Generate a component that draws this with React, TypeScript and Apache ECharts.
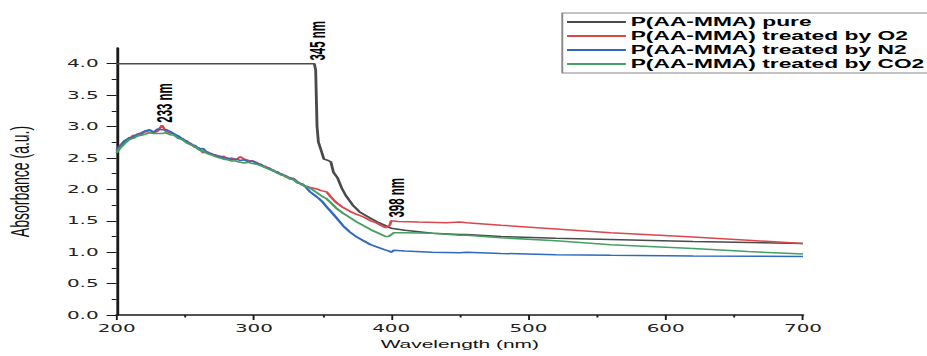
import React, { useEffect, useRef } from "react";
import * as echarts from "echarts";

// The reference figure is horizontally stretched; draw at a narrower width and stretch with CSS.
const PAGE_W = 927;
const PAGE_H = 356;
const CHART_W = 488;
const SCALE_X = PAGE_W / CHART_W;

const FONT = "'Liberation Sans', Arial, sans-serif";
const TICK_FONT = "'DejaVu Sans', Verdana, sans-serif";

const seriesNames = [
  "P(AA-MMA) pure",
  "P(AA-MMA) treated by O2",
  "P(AA-MMA) treated by N2",
  "P(AA-MMA) treated by CO2",
];
const seriesColors = ["#4a4a4a", "#d9474c", "#2f68c0", "#43a062"];

const yTickValues = [0, 0.5, 1.0, 1.5, 2.0, 2.5, 3.0, 3.5, 4.0];
const yMinorTickValues = [0.25, 0.75, 1.25, 1.75, 2.25, 2.75, 3.25, 3.75];

// shared scan wavelengths (nm) for the noisy region
const scanWave = [
  200, 203, 206, 209, 212, 215, 218, 221, 224, 227, 230, 233, 236, 239, 242, 245,
  248, 251, 254, 257, 260, 263, 266, 269, 272, 275, 278, 281, 284, 287, 290, 293,
  296, 299, 302, 305, 308, 311, 314, 317, 320, 323, 326, 329, 332, 335, 338,
];

const o2Scan = [
  2.62, 2.71, 2.78, 2.79, 2.86, 2.85, 2.88, 2.92, 2.91, 2.9, 2.93, 3.02, 2.92, 2.9, 2.88, 2.82,
  2.81, 2.75, 2.73, 2.67, 2.66, 2.58, 2.6, 2.55, 2.55, 2.51, 2.53, 2.48, 2.5, 2.47, 2.52, 2.48,
  2.46, 2.45, 2.43, 2.38, 2.37, 2.33, 2.31, 2.26, 2.25, 2.2, 2.19, 2.17, 2.12, 2.07, 2.05,
];
const n2Scan = [
  2.64, 2.69, 2.77, 2.82, 2.83, 2.88, 2.9, 2.93, 2.95, 2.91, 2.96, 2.95, 2.95, 2.92, 2.88, 2.85,
  2.79, 2.77, 2.71, 2.7, 2.64, 2.65, 2.58, 2.57, 2.53, 2.53, 2.5, 2.5, 2.47, 2.48, 2.46, 2.47,
  2.44, 2.45, 2.41, 2.4, 2.35, 2.34, 2.29, 2.28, 2.23, 2.22, 2.17, 2.16, 2.1, 2.09, 2.03,
];
const co2Scan = [
  2.58, 2.67, 2.73, 2.79, 2.81, 2.85, 2.86, 2.88, 2.9, 2.89, 2.89, 2.89, 2.9, 2.87, 2.86, 2.81,
  2.79, 2.74, 2.71, 2.68, 2.63, 2.61, 2.57, 2.55, 2.52, 2.5, 2.48, 2.47, 2.45, 2.45, 2.43, 2.42,
  2.43, 2.41, 2.4, 2.38, 2.35, 2.32, 2.3, 2.26, 2.23, 2.21, 2.17, 2.15, 2.11, 2.08, 2.04,
];

const o2TailWave = [341, 345, 349, 353, 356, 360, 365, 370, 375, 380, 385, 389, 393, 396, 398, 399, 400, 405, 420, 440, 450, 455, 480, 520, 560, 620, 660, 700];
const o2Tail = [2.03, 2.01, 1.98, 1.96, 1.88, 1.79, 1.71, 1.65, 1.6, 1.56, 1.5, 1.47, 1.42, 1.39, 1.41, 1.43, 1.5, 1.49, 1.48, 1.47, 1.48, 1.47, 1.43, 1.37, 1.31, 1.24, 1.19, 1.14];

const n2TailWave = [341, 344, 347, 350, 353, 356, 360, 365, 370, 375, 380, 385, 390, 395, 398, 400, 402, 410, 430, 450, 455, 480, 520, 560, 620, 700];
const n2Tail = [1.96, 1.91, 1.86, 1.8, 1.72, 1.65, 1.55, 1.42, 1.32, 1.24, 1.18, 1.12, 1.08, 1.04, 1.02, 1.0, 1.03, 1.02, 1.0, 0.99, 1.0, 0.98, 0.96, 0.95, 0.94, 0.93];

const co2TailWave = [341, 345, 349, 353, 356, 360, 365, 370, 375, 380, 385, 389, 393, 396, 398, 400, 402, 410, 430, 450, 455, 480, 520, 560, 620, 660, 700];
const co2Tail = [2.02, 1.96, 1.9, 1.85, 1.79, 1.7, 1.62, 1.55, 1.48, 1.42, 1.36, 1.32, 1.28, 1.25, 1.25, 1.28, 1.31, 1.31, 1.3, 1.27, 1.27, 1.23, 1.18, 1.12, 1.06, 1.01, 0.97];

const pureWave = [200, 344, 345, 346, 347, 349, 351, 354, 356, 358, 361, 364, 367, 372, 377, 384, 390, 395, 400, 410, 430, 450, 455, 480, 520, 560, 620, 700];
const pureVals = [4.0, 4.0, 3.9, 3.0, 2.75, 2.62, 2.48, 2.46, 2.44, 2.27, 2.18, 2.02, 1.9, 1.75, 1.64, 1.55, 1.48, 1.43, 1.38, 1.35, 1.3, 1.28, 1.28, 1.25, 1.22, 1.2, 1.17, 1.14];

// peak annotations: label, wavelength, absorbance at label foot, series index
const peakLabels = ["233 nm", "345 nm", "398 nm"];
const peakWave = [235, 346.6, 404];
const peakAbs = [3.06, 4.05, 1.55];
const peakSeries = [1, 0, 1];

const zip = (xs: number[], ys: number[]) => xs.map((x, i) => [x, ys[i]]);

export default function App() {
  const ref = useRef<HTMLDivElement>(null);

  useEffect(() => {
    if (!ref.current) return;
    const chart = echarts.init(ref.current, null, { renderer: "svg" });

    const dataSets = [
      zip(pureWave, pureVals),
      zip([...scanWave, ...o2TailWave], [...o2Scan, ...o2Tail]),
      zip([...scanWave, ...n2TailWave], [...n2Scan, ...n2Tail]),
      zip([...scanWave, ...co2TailWave], [...co2Scan, ...co2Tail]),
    ];

    const series = seriesNames.map((name, i) => {
      const marks = peakLabels
        .map((lab, k) => ({ lab, k }))
        .filter(({ k }) => peakSeries[k] === i)
        .map(({ lab, k }) => ({ name: lab, coord: [peakWave[k], peakAbs[k]] }));
      return {
        name,
        type: "line",
        data: dataSets[i],
        symbol: "none",
        showSymbol: false,
        lineStyle: { color: seriesColors[i], width: 1.5 },
        itemStyle: { color: seriesColors[i] },
        z: 2 + i,
        markPoint: marks.length
          ? {
              symbol: "circle",
              symbolSize: 1,
              itemStyle: { color: "rgba(0,0,0,0)" },
              label: {
                show: true,
                formatter: (p: any) => p.name,
                position: "inside",
                rotate: 90,
                align: "left",
                verticalAlign: "middle",
                color: "#000",
                fontFamily: FONT,
                fontWeight: "bold",
                fontSize: 11.5,
              },
              data: marks,
            }
          : undefined,
      };
    });

    const axisColor = "#1a1a1a";

    chart.setOption({
      animation: false,
      backgroundColor: "#ffffff",
      textStyle: { fontFamily: FONT },
      grid: {
        left: 61.4,
        right: 65.3,
        top: 48,
        bottom: 41,
        containLabel: false,
        outerBoundsMode: "none",
      },
      legend: {
        orient: "vertical",
        left: 296,
        top: 13,
        padding: [2, 2, 2, 1.5],
        itemWidth: 31,
        itemHeight: 14,
        itemGap: 0,
        borderColor: "#888",
        borderWidth: 1,
        itemStyle: { opacity: 0 },
        data: seriesNames,
        textStyle: {
          fontFamily: FONT,
          fontWeight: "bold",
          fontSize: 12,
          color: "#000",
          lineHeight: 14,
          padding: [0, 0, 0, -2.5],
        },
      },
      xAxis: {
        type: "value",
        min: 200,
        max: 700,
        interval: 100,
        name: "Wavelength (nm)",
        nameLocation: "middle",
        nameGap: 22,
        nameTextStyle: { fontFamily: FONT, fontSize: 11, color: "#111" },
        axisLine: { show: true, lineStyle: { color: axisColor, width: 1.5 } },
        axisTick: { show: true, length: 5, lineStyle: { color: axisColor, width: 1 } },
        minorTick: { show: true, splitNumber: 2, length: 2.5, lineStyle: { color: axisColor, width: 1 } },
        splitLine: { show: false },
        axisLabel: { fontFamily: TICK_FONT, fontSize: 10.5, color: "#222", margin: 8 },
      },
      yAxis: [
        {
          type: "value",
          min: 0,
          max: 4.25,
          interval: 0.25,
          name: "Absorbance (a.u.)",
          nameLocation: "middle",
          nameGap: 44,
          nameTextStyle: { fontFamily: FONT, fontSize: 14, color: "#111" },
          axisLine: { show: true, lineStyle: { color: axisColor, width: 1.5 } },
          axisTick: {
            show: true,
            length: 5.3,
            customValues: yTickValues,
            lineStyle: { color: axisColor, width: 1 },
          },
          splitLine: { show: false },
          axisLabel: {
            customValues: yTickValues,
            formatter: (v: number) => v.toFixed(1),
            fontFamily: TICK_FONT,
            fontSize: 10.5,
            color: "#222",
            margin: 9.5,
          },
        },
        {
          type: "value",
          position: "left",
          min: 0,
          max: 4.25,
          interval: 0.25,
          axisLine: { show: false },
          axisTick: {
            show: true,
            length: 2.6,
            customValues: yMinorTickValues,
            lineStyle: { color: axisColor, width: 1 },
          },
          splitLine: { show: false },
          axisLabel: { show: false },
        },
      ],
      series,
    });

    return () => chart.dispose();
  }, []);

  return (
    <div
      ref={ref}
      style={{
        position: "fixed",
        left: 0,
        top: 0,
        width: CHART_W,
        height: PAGE_H,
        transform: `scaleX(${SCALE_X})`,
        transformOrigin: "0 0",
        background: "#fff",
      }}
    />
  );
}
